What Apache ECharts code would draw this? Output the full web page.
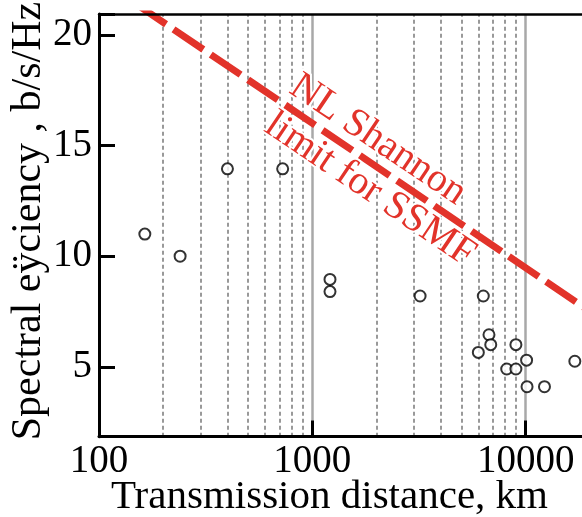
<!DOCTYPE html>
<html>
<head>
<meta charset="utf-8">
<script src="https://cdn.jsdelivr.net/npm/echarts@6/dist/echarts.min.js"></script>
<style>
  html, body { margin: 0; padding: 0; background: #fff; }
  #chart { width: 582px; height: 517px; }
</style>
</head>
<body>
<div id="chart"></div>
<script>
// Reported experiments: transmission distance (km) and spectral efficiency (b/s/Hz)
const distanceKm = [164, 240, 400, 726, 1210, 1210, 3200, 6330, 6730, 6860, 6000, 9000, 10100, 8150, 9000, 10150, 12250, 17000];
const efficiency = [11.0, 10.0, 13.95, 13.95, 8.95, 8.4, 8.2, 8.2, 6.45, 6.0, 5.65, 6.0, 5.3, 4.9, 4.9, 4.1, 4.1, 5.25];

// Nonlinear Shannon limit for SSMF (straight on the log-distance axis)
const limitKm = [100, 20000];
const limitEff = [22.54, 7.51];

// Axis labels and vertical grid lines
const yTicks = [5, 10, 15, 20];
const majorGrid = [1000, 10000];
const minorGrid = [200, 300, 400, 500, 600, 700, 800, 900, 2000, 3000, 4000, 5000, 6000, 7000, 8000, 9000];

const FONT = '"Liberation Serif", "Times New Roman", serif';
const RED = '#E2332A';
const X_MIN = 100, X_MAX = 100000;
const Y_MIN = 1.84, Y_MAX = 20.95;
const TICK_LEN = 16;

const chart = echarts.init(document.getElementById('chart'), null, { renderer: 'canvas' });

const gridLines = minorGrid.map(v => ({
  xAxis: v,
  lineStyle: { type: [4, 3], width: 2, color: '#999999' }
})).concat(majorGrid.map(v => ({
  xAxis: v,
  lineStyle: { type: 'solid', width: 2.5, color: '#a8a8a8' }
})));

const tickLine = { color: '#000', width: 3 };
const hidden = { axisLine: { show: false }, axisTick: { show: false }, axisLabel: { show: false }, splitLine: { show: false } };

chart.setOption({
  animation: false,
  backgroundColor: '#fff',
  grid: [
    // main plot; the distance axis runs past the right edge of the page (three full decades)
    { left: 99, top: 14, right: -157, bottom: 80.3, outerBoundsMode: 'none', containLabel: false },
    // narrow strip along the left axis holding the inward efficiency ticks
    { left: 99, width: TICK_LEN, top: 14, bottom: 80.3, outerBoundsMode: 'none', containLabel: false },
    // thin strip along the bottom axis holding the inward decade ticks
    { left: 99, right: -157, height: TICK_LEN, bottom: 80.3, outerBoundsMode: 'none', containLabel: false }
  ],
  xAxis: [{
    gridIndex: 0,
    type: 'log', logBase: 10, min: X_MIN, max: X_MAX,
    position: 'bottom', z: 5,
    axisLine: { lineStyle: { color: '#000', width: 3 } },
    axisTick: { show: true, inside: true, length: TICK_LEN, lineStyle: tickLine },
    axisLabel: { color: '#000', fontFamily: FONT, fontSize: 39, margin: 6, formatter: v => String(v) },
    splitLine: { show: false }
  }, {
    // top frame line
    gridIndex: 0,
    type: 'log', logBase: 10, min: X_MIN, max: X_MAX,
    position: 'top', z: 5,
    axisLine: { lineStyle: { color: '#000', width: 2.5 } },
    axisTick: { show: false },
    axisLabel: { show: false },
    splitLine: { show: false }
  }, Object.assign({
    gridIndex: 1, type: 'value', min: 0, max: 1
  }, hidden), Object.assign({}, hidden, {
    gridIndex: 2,
    type: 'log', logBase: 10, min: X_MIN, max: X_MAX, z: 6,
    splitLine: { show: true, showMinLine: true, showMaxLine: false, lineStyle: tickLine }
  })],
  yAxis: [{
    gridIndex: 0,
    type: 'value', min: Y_MIN, max: Y_MAX, splitNumber: 4,
    position: 'left', z: 5,
    axisLine: { show: true, lineStyle: { color: '#000', width: 3 } },
    axisTick: { show: true, inside: true, length: TICK_LEN, lineStyle: tickLine },
    axisLabel: { color: '#000', fontFamily: FONT, fontSize: 39, margin: 7, customValues: yTicks },
    splitLine: { show: false }
  }, Object.assign({}, hidden, {
    gridIndex: 1,
    type: 'value', min: Y_MIN, max: Y_MAX, splitNumber: 4, z: 6,
    splitLine: { show: true, showMinLine: false, showMaxLine: false, lineStyle: tickLine }
  }), Object.assign({
    gridIndex: 2, type: 'value', min: 0, max: 1
  }, hidden)],
  series: [{
    type: 'line',
    xAxisIndex: 0, yAxisIndex: 0,
    data: limitKm.map((d, i) => [d, limitEff[i]]),
    symbol: 'none',
    clip: true,
    lineStyle: { color: RED, width: 7, type: [36, 9], cap: 'butt' },
    z: 3,
    markLine: {
      silent: true,
      symbol: ['none', 'none'],
      label: { show: false },
      z: 1,
      data: gridLines
    }
  }, {
    type: 'scatter',
    xAxisIndex: 0, yAxisIndex: 0,
    data: distanceKm.map((d, i) => [d, efficiency[i]]),
    symbol: 'circle',
    symbolSize: 11,
    itemStyle: { color: '#fff', borderColor: '#000', borderWidth: 2 },
    z: 4
  }],
  graphic: [{
    type: 'text',
    x: 28.5, y: 221,
    rotation: Math.PI / 2,
    style: {
      text: 'Spectral eÿciency , b/s/Hz',
      fill: '#000', font: '42px ' + FONT,
      align: 'center', verticalAlign: 'middle'
    }
  }, {
    type: 'text',
    x: 329.5, y: 497.5,
    style: {
      text: 'Transmission distance, km',
      fill: '#000', font: '41px ' + FONT,
      align: 'center', verticalAlign: 'middle'
    }
  }, {
    type: 'text',
    x: 378, y: 140,
    rotation: -34 * Math.PI / 180,
    z: 10,
    style: {
      text: 'NL Shannon',
      fill: RED, font: '40px ' + FONT,
      stroke: '#fff', lineWidth: 4,
      align: 'center', verticalAlign: 'middle'
    }
  }, {
    type: 'text',
    x: 370, y: 190,
    rotation: -34 * Math.PI / 180,
    z: 10,
    style: {
      text: 'limit for SSMF',
      fill: RED, font: '40px ' + FONT,
      stroke: '#fff', lineWidth: 4,
      align: 'center', verticalAlign: 'middle'
    }
  }]
});
</script>
</body>
</html>
